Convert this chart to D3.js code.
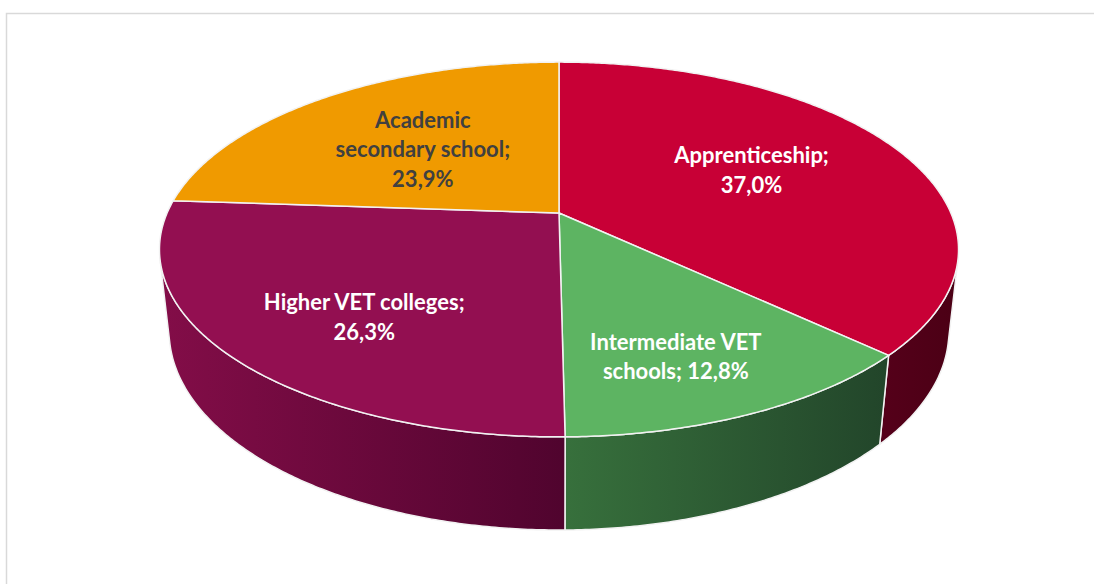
<!DOCTYPE html>
<html>
<head>
<meta charset="utf-8">
<script src="https://cdn.jsdelivr.net/npm/d3@7"></script>
<style>
  html, body { margin: 0; padding: 0; background: #ffffff; }
  svg { display: block; }
  .lbl { font-family: "Lato", "Open Sans", sans-serif; font-weight: 700; }
</style>
</head>
<body>
<svg id="chart" width="1094" height="584"></svg>
<script>
// ---- data ----
const categories = ["Apprenticeship", "Intermediate VET schools", "Higher VET colleges", "Academic secondary school"];
const values = [37.0, 12.8, 26.3, 23.9];
const valueLabels = ["37,0%", "12,8%", "26,3%", "23,9%"];
const labelLines = [
  ["Apprenticeship;", "37,0%"],
  ["Intermediate VET", "schools; 12,8%"],
  ["Higher VET colleges;", "26,3%"],
  ["Academic", "secondary school;", "23,9%"]
];

// ---- style ----
const topColors  = ["#C80036", "#5DB462", "#930F51", "#F09A00"];
const sideLight  = ["#55001A", "#37703C", "#830D48", "#B87400"];
const sideDark   = ["#4B0015", "#22452A", "#50042E", "#8A5600"];
const textColors = ["#FFFFFF", "#FFFFFF", "#FFFFFF", "#404040"];
const labelRadius = [0.571, 0.738, 0.686, 0.531];
const labelShiftDeg = [-2.2, 3.3, -6.0, -1.6];

// ---- 3D projection (perspective) ----
const cx = 559, cy = 213, F = 1787, D = 4.56;
const alpha = Math.asin(0.46);
const sa = Math.sin(alpha), ca = Math.cos(alpha);
const depth = 0.2374;
function proj(X, Y, Z) {
  const zc = D - Y * sa - Z * ca;
  return [cx + F * X / zc, cy - F * (Y * ca - Z * sa) / zc];
}
function polar(theta, rho, Y) { // theta clockwise from top (back)
  return proj(rho * Math.sin(theta), Y, -rho * Math.cos(theta));
}

const svg = d3.select("#chart");
const defs = svg.append("defs");

// frame
svg.append("rect").attr("x", 6.5).attr("y", 13.5).attr("width", 1100).attr("height", 600)
  .attr("fill", "#ffffff").attr("stroke", "#D9D9D9").attr("stroke-width", 1.5);

const pie = d3.pie().sort(null).startAngle(0).endAngle(2 * Math.PI);
const arcs = pie(values);

function sample(a0, a1, Y) {
  const n = Math.max(2, Math.ceil(Math.abs(a1 - a0) / (Math.PI / 360)));
  const pts = [];
  for (let i = 0; i <= n; i++) pts.push(polar(a0 + (a1 - a0) * i / n, 1, Y));
  return pts;
}
const line = d3.line();

// visible range of the cylindrical side
const tVis = Math.acos(-1 / (D * ca));
const visA0 = tVis, visA1 = 2 * Math.PI - tVis;

// sides
const gSide = svg.append("g");
arcs.forEach((a, i) => {
  const s0 = Math.max(a.startAngle, visA0), s1 = Math.min(a.endAngle, visA1);
  if (s1 <= s0) return;
  const topPts = sample(s0, s1, 0);
  const botPts = sample(s0, s1, -depth).reverse();
  const all = topPts.concat(botPts);
  const xs = all.map(p => p[0]);
  const gid = "side" + i;
  const lg = defs.append("linearGradient").attr("id", gid)
    .attr("gradientUnits", "userSpaceOnUse")
    .attr("x1", d3.min(xs)).attr("x2", d3.max(xs)).attr("y1", 0).attr("y2", 0);
  lg.append("stop").attr("offset", "0").attr("stop-color", sideLight[i]);
  lg.append("stop").attr("offset", "1").attr("stop-color", sideDark[i]);
  gSide.append("path").attr("d", line(all) + "Z")
    .attr("fill", "url(#" + gid + ")")
    .attr("stroke", "#F2F2F2").attr("stroke-width", 1.5).attr("stroke-linejoin", "round");
});

// top faces
const gTop = svg.append("g");
arcs.forEach((a, i) => {
  const pts = [proj(0, 0, 0)].concat(sample(a.startAngle, a.endAngle, 0));
  gTop.append("path").attr("d", line(pts) + "Z")
    .attr("fill", topColors[i])
    .attr("stroke", "#F2F2F2").attr("stroke-width", 1.5).attr("stroke-linejoin", "round");
});

// labels
const gLbl = svg.append("g");
const fs = 22, lh = 29.5;
arcs.forEach((a, i) => {
  const mid = (a.startAngle + a.endAngle) / 2 + labelShiftDeg[i] * Math.PI / 180;
  const [lx, ly] = polar(mid, labelRadius[i], 0);
  const lines = labelLines[i];
  const n = lines.length;
  const capH = fs * 0.68;
  const blockH = capH + (n - 1) * lh;
  const firstBase = ly - blockH / 2 + capH;
  const t = gLbl.append("text").attr("class", "lbl")
    .attr("text-anchor", "middle").attr("font-size", fs)
    .attr("fill", textColors[i]);
  lines.forEach((s, j) => {
    t.append("tspan").attr("x", lx).attr("y", firstBase + j * lh).text(s);
  });
});
</script>
</body>
</html>
